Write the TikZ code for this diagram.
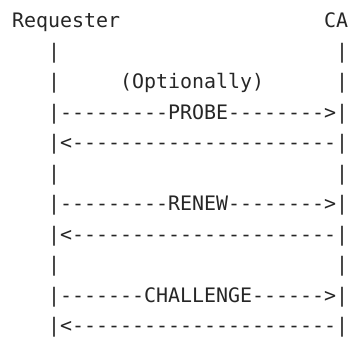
\documentclass[tikz,border=0pt]{standalone}
\usepackage{fontspec}
\setmonofont{DejaVu Sans Mono}
\newcommand{\asciitext}{\ttfamily\fontsize{19.93pt}{24pt}\selectfont}
\tikzset{
  line/.style={anchor=base west, inner sep=0pt, font=\asciitext, text=black!85},
}
\begin{document}
\begin{tikzpicture}[x=1pt, y=1pt]
   \useasboundingbox (0,0) rectangle (349,339);
   % party names
   \node[line] (req) at (12,311) {Requester};
   \node[line] (ca) at (324,311) {CA};
   % lifelines and messages, one text row each
   \node[line] (l1a) at (48,280.5) {|};
   \node[line] (l1b) at (336,280.5) {|};
   \node[line] (l2a) at (48,250) {|};
   \node[line] (opt) at (120,250) {(Optionally)};
   \node[line] (l2b) at (336,250) {|};
   \node[line] (probe) at (48,219.5) {|---------PROBE-------->|};
   \node[line] (proberesp) at (48,189) {|<----------------------|};
   \node[line] (l5a) at (48,158.5) {|};
   \node[line] (l5b) at (336,158.5) {|};
   \node[line] (renew) at (48,128) {|---------RENEW-------->|};
   \node[line] (renewresp) at (48,97.5) {|<----------------------|};
   \node[line] (l8a) at (48,67) {|};
   \node[line] (l8b) at (336,67) {|};
   \node[line] (chall) at (48,36.5) {|-------CHALLENGE------>|};
   \node[line] (challresp) at (48,6) {|<----------------------|};
\end{tikzpicture}
\end{document}
